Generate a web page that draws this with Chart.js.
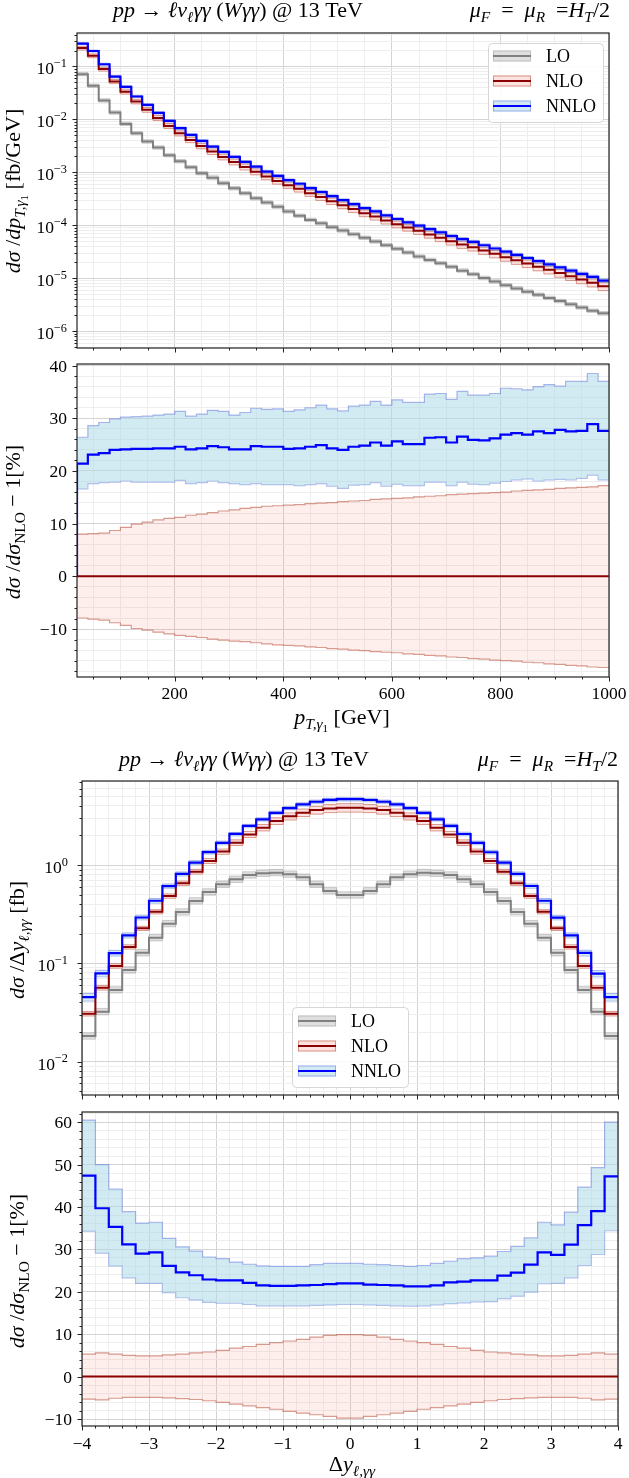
<!DOCTYPE html>
<html>
<head>
<meta charset="utf-8">
<script src="https://cdn.jsdelivr.net/npm/chart.js@4.4.1/dist/chart.umd.min.js"></script>
<style>
  body { margin: 0; background: #fff; width: 629px; height: 1478px; position: relative; overflow: hidden; }
  canvas { position: absolute; left: 0; }
</style>
</head>
<body>
<canvas id="c1" width="629" height="356" style="top:0px"></canvas>
<canvas id="c2" width="629" height="380" style="top:356px"></canvas>
<canvas id="c3" width="629" height="364" style="top:736px"></canvas>
<canvas id="c4" width="629" height="378" style="top:1100px"></canvas>
<script>
const FONT = '"Liberation Serif", "DejaVu Serif", serif';
const MAJOR_GRID = '#d4d4d4';
const MINOR_GRID = '#eeeeee';

const legendLabels = ['LO', 'NLO', 'NNLO'];

// --- leading photon pT, 20 GeV bins (bin edges) ---
const ptEdges = [20, 40, 60, 80, 100, 120, 140, 160, 180, 200, 220, 240, 260, 280, 300, 320, 340, 360, 380, 400,
  420, 440, 460, 480, 500, 520, 540, 560, 580, 600, 620, 640, 660, 680, 700, 720, 740, 760, 780, 800,
  820, 840, 860, 880, 900, 920, 940, 960, 980, 1000];
// fb/GeV
const ptLO = [0.0716, 0.0432, 0.0228, 0.0135, 0.00824, 0.00549, 0.00382, 0.00294, 0.00211, 0.00162,
  0.00125, 9.63e-4, 7.97e-4, 6.23e-4, 5.01e-4, 4.03e-4, 3.24e-4, 2.69e-4, 2.26e-4, 1.83e-4,
  1.52e-4, 1.27e-4, 1.10e-4, 9.27e-5, 8.01e-5, 6.83e-5, 5.82e-5, 4.96e-5, 4.23e-5, 3.61e-5,
  3.07e-5, 2.58e-5, 2.23e-5, 1.93e-5, 1.65e-5, 1.40e-5, 1.20e-5, 1.02e-5, 8.69e-6, 7.41e-6,
  6.46e-6, 5.62e-6, 4.90e-6, 4.27e-6, 3.72e-6, 3.24e-6, 2.82e-6, 2.45e-6, 2.19e-6];
const ptNLO = [0.222, 0.159, 0.0891, 0.0520, 0.0332, 0.0218, 0.0152, 0.0107, 0.00755, 0.00549,
  0.00411, 0.00316, 0.00247, 0.00196, 0.00158, 0.00127, 0.00103, 8.33e-4, 6.90e-4, 5.75e-4,
  4.91e-4, 4.06e-4, 3.42e-4, 2.87e-4, 2.41e-4, 2.03e-4, 1.70e-4, 1.47e-4, 1.24e-4, 1.05e-4,
  9.12e-5, 7.89e-5, 6.73e-5, 5.82e-5, 5.03e-5, 4.35e-5, 3.88e-5, 3.35e-5, 2.90e-5, 2.51e-5,
  2.19e-5, 1.91e-5, 1.66e-5, 1.45e-5, 1.26e-5, 1.10e-5, 9.55e-6, 8.30e-6, 7.10e-6];
// percent w.r.t. NLO central
const ptNLOup = [8.0, 8.1, 8.2, 8.7, 9.3, 9.9, 10.3, 10.7, 11.0, 11.2,
  11.6, 11.8, 12.1, 12.4, 12.6, 12.9, 13.1, 13.3, 13.4, 13.5,
  13.6, 13.8, 13.9, 14.0, 14.2, 14.3, 14.4, 14.6, 14.7, 14.8,
  14.9, 15.1, 15.2, 15.3, 15.5, 15.6, 15.7, 15.8, 15.9, 16.0,
  16.2, 16.3, 16.4, 16.5, 16.7, 16.8, 16.9, 17.0, 17.2];
const ptNLOdn = [-7.9, -8.1, -8.3, -8.8, -9.3, -9.9, -10.2, -10.6, -10.9, -11.2,
  -11.4, -11.6, -11.9, -12.1, -12.3, -12.4, -12.6, -12.8, -13.0, -13.1,
  -13.2, -13.4, -13.5, -13.7, -13.8, -14.0, -14.1, -14.3, -14.4, -14.5,
  -14.7, -14.8, -15.0, -15.1, -15.3, -15.4, -15.6, -15.7, -15.9, -16.0,
  -16.1, -16.3, -16.4, -16.6, -16.7, -16.9, -17.0, -17.2, -17.3];
const ptNNLO = [21.4, 23.1, 23.4, 24.0, 24.1, 24.2, 24.2, 24.3, 24.3, 24.6,
  24.1, 24.3, 24.7, 24.5, 24.1, 24.1, 24.7, 24.6, 24.6, 24.2,
  24.3, 24.6, 24.9, 24.3, 24.0, 24.6, 24.8, 25.4, 24.8, 25.6,
  25.1, 25.1, 26.3, 26.4, 25.4, 26.5, 25.9, 25.8, 26.2, 26.9,
  27.2, 26.9, 27.5, 27.2, 27.8, 27.5, 27.6, 28.9, 27.6];
const ptNNLOup = [26.4, 28.6, 29.2, 29.9, 30.2, 30.3, 30.4, 30.6, 30.8, 31.3,
  30.4, 30.8, 31.5, 31.3, 30.6, 31.1, 31.9, 31.7, 31.8, 31.3,
  31.6, 32.0, 32.5, 31.8, 31.4, 32.3, 32.5, 33.2, 32.5, 33.5,
  33.0, 33.0, 34.6, 34.7, 33.6, 35.1, 34.4, 34.4, 34.7, 35.7,
  35.6, 35.4, 36.0, 36.4, 36.1, 37.0, 37.0, 38.5, 37.0];
const ptNNLOdn = [16.6, 17.6, 17.8, 17.9, 18.1, 17.9, 17.9, 17.9, 17.9, 18.2,
  17.6, 17.8, 18.1, 17.8, 17.6, 17.4, 17.6, 17.4, 17.4, 17.4,
  17.2, 17.4, 17.6, 17.1, 16.7, 17.3, 17.4, 17.8, 17.1, 17.5,
  17.2, 17.2, 17.9, 17.9, 17.2, 17.9, 17.5, 17.4, 17.7, 18.0,
  18.3, 18.5, 18.1, 18.3, 18.4, 18.3, 18.6, 19.2, 18.3];

// --- rapidity difference, 0.2 bins ---
const dyEdges = [-4.0, -3.8, -3.6, -3.4, -3.2, -3.0, -2.8, -2.6, -2.4, -2.2, -2.0, -1.8, -1.6, -1.4, -1.2, -1.0,
  -0.8, -0.6, -0.4, -0.2, 0.0, 0.2, 0.4, 0.6, 0.8, 1.0, 1.2, 1.4, 1.6, 1.8, 2.0, 2.2, 2.4, 2.6, 2.8, 3.0,
  3.2, 3.4, 3.6, 3.8, 4.0];
// fb
const dyLO = [0.0182, 0.0322, 0.0536, 0.0855, 0.128, 0.182, 0.253, 0.333, 0.431, 0.531,
  0.636, 0.715, 0.791, 0.823, 0.836, 0.806, 0.752, 0.636, 0.546, 0.495,
  0.495, 0.546, 0.636, 0.752, 0.806, 0.836, 0.823, 0.791, 0.715, 0.636,
  0.531, 0.431, 0.333, 0.253, 0.182, 0.128, 0.0855, 0.0536, 0.0322, 0.0182];
const dyNLO = [0.0308, 0.0566, 0.0940, 0.147, 0.227, 0.335, 0.484, 0.652, 0.855, 1.10,
  1.37, 1.69, 2.05, 2.40, 2.80, 3.13, 3.41, 3.62, 3.77, 3.83,
  3.83, 3.77, 3.62, 3.41, 3.13, 2.80, 2.40, 2.05, 1.69, 1.37,
  1.10, 0.855, 0.652, 0.484, 0.335, 0.227, 0.147, 0.0940, 0.0566, 0.0308];
const dyNLOup = [5.3, 5.6, 5.3, 5.0, 4.9, 4.9, 5.1, 5.3, 5.6, 5.8,
  6.2, 6.7, 7.1, 7.6, 8.0, 8.4, 8.8, 9.3, 9.7, 9.9,
  9.9, 9.7, 9.3, 8.8, 8.4, 8.0, 7.6, 7.1, 6.7, 6.2,
  5.8, 5.6, 5.3, 5.1, 4.9, 4.9, 5.0, 5.3, 5.6, 5.3];
const dyNLOdn = [-5.3, -5.5, -5.1, -4.9, -4.9, -4.9, -5.0, -5.2, -5.4, -5.7,
  -6.1, -6.5, -6.9, -7.3, -7.7, -8.2, -8.6, -9.0, -9.4, -9.8,
  -9.8, -9.4, -9.0, -8.6, -8.2, -7.7, -7.3, -6.9, -6.5, -6.1,
  -5.7, -5.4, -5.2, -5.0, -4.9, -4.9, -4.9, -5.1, -5.5, -5.3];
const dyNNLO = [47.4, 39.7, 35.3, 31.2, 29.0, 29.3, 26.1, 24.6, 23.9, 22.9,
  22.7, 22.7, 22.1, 21.5, 21.4, 21.4, 21.5, 21.6, 21.8, 22.0,
  22.0, 21.7, 21.6, 21.5, 21.3, 21.3, 21.5, 22.2, 22.4, 22.7,
  22.7, 23.8, 24.5, 26.4, 29.3, 28.7, 31.1, 35.7, 39.0, 47.2];
const dyNNLOup = [60.5, 50.0, 44.2, 38.9, 36.2, 36.4, 32.6, 30.6, 29.6, 28.2,
  27.8, 27.0, 26.5, 26.1, 26.0, 26.0, 26.0, 26.4, 26.7, 26.7,
  26.7, 26.5, 26.4, 26.2, 26.0, 26.2, 26.7, 27.2, 27.8, 28.0,
  28.4, 29.5, 30.7, 32.7, 36.4, 35.8, 38.8, 44.7, 49.3, 60.0];
const dyNNLOdn = [34.3, 29.1, 26.1, 23.3, 22.0, 22.0, 19.8, 18.6, 18.1, 17.5,
  17.3, 17.3, 17.0, 16.7, 16.7, 16.7, 16.7, 16.8, 16.9, 17.0,
  17.0, 16.9, 16.8, 16.7, 16.6, 16.7, 16.9, 17.2, 17.4, 17.6,
  17.7, 18.4, 19.0, 19.9, 21.9, 22.0, 23.3, 26.2, 28.8, 34.4];

// LO scale band, rough estimate in percent
const loBandUp = 8;
const loBandDn = -7;

// colours
const C_LO = '#808080', C_NLO = '#8b0000', C_NNLO = '#0000ff';
const LO_FILL = 'rgba(128,128,128,0.25)', LO_EDGE = 'rgba(128,128,128,0.35)';
const NLO_FILL = 'rgba(250,128,114,0.22)', NLO_EDGE = 'rgba(190,90,70,0.6)';
const NLO_FILL_R = 'rgba(250,128,114,0.13)';
const NNLO_FILL = 'rgba(173,216,230,0.55)', NNLO_EDGE = 'rgba(80,100,220,0.45)';

// ---------- helpers ----------
function steps(edges, vals, base) {
  const pts = vals.map((v, i) => ({ x: edges[i], y: v }));
  pts.push({ x: edges[edges.length - 1], y: vals[vals.length - 1] });
  if (base !== undefined) pts.unshift({ x: edges[0], y: base });
  return pts;
}
const scaled = (base, pct) => base.map((v, i) => v * (1 + (Array.isArray(pct) ? pct[i] : pct) / 100));

function hist(data, color, width, order, fill, bg) {
  return { data, borderColor: color, borderWidth: width, backgroundColor: bg || 'transparent',
    fill: fill || false, stepped: 'before', pointRadius: 0, order };
}

function linTicks(from, to, step) {
  const out = [];
  for (let v = from; v <= to + 1e-9; v += step) out.push(Math.round(v * 1000) / 1000);
  return out;
}
function logTicks(min, max) {
  const out = [];
  for (let k = Math.floor(Math.log10(min)); k <= Math.ceil(Math.log10(max)); k++)
    for (let n = 1; n <= 9; n++) {
      const v = n * Math.pow(10, k);
      if (v >= min && v <= max) out.push(v);
    }
  return out;
}
const fmt = v => (v < 0 ? '\u2212' + Math.abs(v) : String(v));

function drawRich(ctx, parts, x, y, size, align, rotate) {
  const segs = parts.map(([t, st = '']) => {
    const sc = st.includes('z') ? 0.5 : (st.includes('s') || st.includes('S')) ? 0.7 : 1;
    const dy = st.includes('z') ? 0.36 : st.includes('s') ? 0.22 : st.includes('S') ? -0.42 : 0;
    const font = (st.includes('i') ? 'italic ' : '') + (size * sc).toFixed(1) + 'px ' + FONT;
    ctx.font = font;
    return { t, font, dy: dy * size, w: ctx.measureText(t).width };
  });
  const total = segs.reduce((s, g) => s + g.w, 0);
  ctx.save();
  ctx.translate(x, y);
  if (rotate) ctx.rotate(-Math.PI / 2);
  let cx = align === 'center' ? -total / 2 : align === 'right' ? -total : 0;
  ctx.textAlign = 'left';
  ctx.textBaseline = 'alphabetic';
  ctx.fillStyle = '#000';
  segs.forEach(g => { ctx.font = g.font; ctx.fillText(g.t, cx, g.dy); cx += g.w; });
  ctx.restore();
}

function drawLegend(ctx, lg) {
  ctx.save();
  ctx.beginPath();
  ctx.roundRect(lg.x + 0.5, lg.y + 0.5, lg.w, lg.h, 4);
  ctx.fillStyle = 'rgba(255,255,255,0.85)';
  ctx.fill();
  ctx.strokeStyle = '#d6d6d6';
  ctx.lineWidth = 1;
  ctx.stroke();
  const styles = [[C_LO, LO_FILL, LO_EDGE], [C_NLO, NLO_FILL, NLO_EDGE], [C_NNLO, NNLO_FILL, NNLO_EDGE]];
  legendLabels.forEach((label, i) => {
    const y = lg.rows[i];
    const [line, fill, edge] = styles[i];
    ctx.fillStyle = fill;
    ctx.fillRect(lg.hx, y - 5.5, 38, 11);
    ctx.strokeStyle = edge;
    ctx.lineWidth = 1;
    ctx.strokeRect(lg.hx + 0.5, y - 5, 37, 10);
    ctx.strokeStyle = line;
    ctx.lineWidth = 2;
    ctx.beginPath();
    ctx.moveTo(lg.hx, y);
    ctx.lineTo(lg.hx + 38, y);
    ctx.stroke();
    drawRich(ctx, [[label]], lg.tx, y + 6, 18, 'left');
  });
  ctx.restore();
}

function deco(cfg, majorX, majorY) {
  return {
    id: 'deco',
    afterDraw(chart) {
      const ctx = chart.ctx, a = chart.chartArea, xs = chart.scales.x, ys = chart.scales.y;
      ctx.save();
      ctx.strokeStyle = '#222';
      ctx.lineWidth = 1;
      ctx.beginPath();
      ys.ticks.forEach(t => {
        const p = Math.round(ys.getPixelForValue(t.value)) + 0.5;
        const L = majorY(t.value) ? 4.5 : 2.5;
        ctx.moveTo(a.left - L, p); ctx.lineTo(a.left, p);
      });
      xs.ticks.forEach(t => {
        const p = Math.round(xs.getPixelForValue(t.value)) + 0.5;
        const L = majorX(t.value) ? 4.5 : 2.5;
        ctx.moveTo(p, a.bottom); ctx.lineTo(p, a.bottom + L);
      });
      ctx.stroke();
      ctx.lineWidth = 1.2;
      ctx.strokeRect(a.left, a.top, a.right - a.left, a.bottom - a.top);

      ys.ticks.filter(t => majorY(t.value)).forEach(t => {
        const p = ys.getPixelForValue(t.value);
        if (cfg.yType === 'logarithmic') {
          drawRich(ctx, [['10'], [fmt(Math.round(Math.log10(t.value))), 'S']], cfg.yLabelX, p + 8, 17.5, 'right');
        } else {
          drawRich(ctx, [[fmt(t.value)]], cfg.yLabelX, p + 6, 17.5, 'right');
        }
      });
      if (cfg.xLabelY) {
        xs.ticks.filter(t => majorX(t.value)).forEach(t => {
          drawRich(ctx, [[fmt(t.value)]], xs.getPixelForValue(t.value), cfg.xLabelY, 17.5, 'center');
        });
      }
      cfg.texts.forEach(tx => drawRich(ctx, tx.parts, tx.x, tx.y, tx.size, tx.align, tx.rotate));
      if (cfg.legend) drawLegend(ctx, cfg.legend);
      ctx.restore();
    }
  };
}

function buildChart(id, cfg) {
  const isLog = cfg.yType === 'logarithmic';
  const near = (v, m) => Math.abs(v / m - Math.round(v / m)) < 1e-6;
  const majorY = isLog ? v => Math.abs(Math.log10(v) - Math.round(Math.log10(v))) < 1e-6 : v => near(v, cfg.yMajor);
  const majorX = v => near(v, cfg.xMajor);
  const yTicks = isLog ? logTicks(cfg.yMin, cfg.yMax) : cfg.yTicks;
  return new Chart(document.getElementById(id), {
    type: 'line',
    data: { datasets: cfg.datasets },
    options: {
      responsive: false,
      animation: false,
      devicePixelRatio: 1,
      events: [],
      layout: { padding: cfg.padding },
      plugins: { legend: { display: false }, tooltip: { enabled: false } },
      scales: {
        x: {
          type: 'linear', min: cfg.xMin, max: cfg.xMax,
          ticks: { display: false },
          border: { display: false },
          grid: { drawTicks: false, lineWidth: 1, color: c => (c.tick && majorX(c.tick.value)) ? MAJOR_GRID : MINOR_GRID },
          afterBuildTicks: s => { s.ticks = cfg.xTicks.map(v => ({ value: v })); },
          afterFit: s => { s.height = cfg.xAxisH; }
        },
        y: {
          type: cfg.yType, min: cfg.yMin, max: cfg.yMax,
          ticks: { display: false },
          border: { display: false },
          grid: { drawTicks: false, lineWidth: 1, color: c => (c.tick && majorY(c.tick.value)) ? MAJOR_GRID : MINOR_GRID },
          afterBuildTicks: s => { s.ticks = yTicks.map(v => ({ value: v })); },
          afterFit: s => { s.width = cfg.yAxisW; }
        }
      }
    },
    plugins: [deco(cfg, majorX, majorY)]
  });
}

// ---------- text ----------
const titleLeft = [['pp', 'i'], [' \u2192 '], ['\u2113\u03BD', 'i'], ['\u2113', 'is'], ['\u03B3\u03B3', 'i'], [' ('], ['W\u03B3\u03B3', 'i'], [') @ 13 TeV']];
const titleRight = [['\u03BC', 'i'], ['F', 'is'], ['\u2002=\u2002'], ['\u03BC', 'i'], ['R', 'is'], ['\u2002='], ['H', 'i'], ['T', 'is'], ['/2']];
const ratioTitle = [['d\u03C3', 'i'], [' /'], ['d\u03C3', 'i'], ['NLO', 's'], [' \u2212 1[%]']];
const T_SIZE = 22, A_SIZE = 22;

const ptXTicks = linTicks(50, 1000, 50);
const dyXTicks = linTicks(-4, 4, 0.2);

// ---------- top: pT distribution ----------
buildChart('c1', {
  yType: 'logarithmic', yMin: 4.85e-7, yMax: 0.428,
  xMin: 20, xMax: 1000, xMajor: 200, xTicks: ptXTicks,
  padding: { top: 33, right: 20, left: 0, bottom: 0 },
  yAxisW: 77, xAxisH: 8, yLabelX: 67,
  datasets: [
    hist(steps(ptEdges, scaled(ptNLO, ptNNLO)), C_NNLO, 2.2, 0),
    hist(steps(ptEdges, ptNLO), C_NLO, 2, 1),
    hist(steps(ptEdges, ptLO), C_LO, 2, 2),
    hist(steps(ptEdges, scaled(ptNLO, ptNNLOup)), NNLO_EDGE, 1, 3, '+1', NNLO_FILL),
    hist(steps(ptEdges, scaled(ptNLO, ptNNLOdn)), NNLO_EDGE, 1, 3),
    hist(steps(ptEdges, scaled(ptNLO, ptNLOup)), NLO_EDGE, 1, 4, '+1', NLO_FILL),
    hist(steps(ptEdges, scaled(ptNLO, ptNLOdn)), NLO_EDGE, 1, 4),
    hist(steps(ptEdges, scaled(ptLO, loBandUp)), LO_EDGE, 1, 5, '+1', LO_FILL),
    hist(steps(ptEdges, scaled(ptLO, loBandDn)), LO_EDGE, 1, 5)
  ],
  texts: [
    { parts: titleLeft, x: 238, y: 17, size: T_SIZE, align: 'center' },
    { parts: titleRight, x: 610, y: 17, size: T_SIZE, align: 'right' },
    { parts: [['d\u03C3', 'i'], [' /'], ['dp', 'i'], ['T,\u03B3', 'is'], ['1', 'z'], [' [fb/GeV]']], x: 20, y: 191, size: A_SIZE, align: 'center', rotate: true }
  ],
  legend: { x: 488, y: 43, w: 115, h: 79, hx: 493, tx: 546, rows: [56, 81, 106] }
});

// ---------- pT ratio ----------
buildChart('c2', {
  yType: 'linear', yMin: -19.1, yMax: 40.3, yMajor: 10, yTicks: linTicks(-18, 40, 2),
  xMin: 20, xMax: 1000, xMajor: 200, xTicks: ptXTicks,
  padding: { top: 8, right: 20, left: 0, bottom: 0 },
  yAxisW: 77, xAxisH: 59, yLabelX: 67, xLabelY: 343,
  datasets: [
    hist(steps(ptEdges, ptNLO.map(v => (v / v - 1) * 100)), C_NLO, 2, 0),
    hist(steps(ptEdges, ptNNLO, 0), C_NNLO, 2.2, 1),
    hist(steps(ptEdges, ptNNLOup), NNLO_EDGE, 1.2, 2, '+1', NNLO_FILL),
    hist(steps(ptEdges, ptNNLOdn), NNLO_EDGE, 1.2, 2),
    hist(steps(ptEdges, ptNLOup), NLO_EDGE, 1.2, 3, '+1', NLO_FILL_R),
    hist(steps(ptEdges, ptNLOdn), NLO_EDGE, 1.2, 3)
  ],
  texts: [
    { parts: ratioTitle, x: 20, y: 166, size: A_SIZE, align: 'center', rotate: true },
    { parts: [['p', 'i'], ['T,\u03B3', 'is'], ['1', 'z'], [' [GeV]']], x: 342, y: 368, size: A_SIZE, align: 'center' }
  ]
});

// ---------- rapidity distribution ----------
buildChart('c3', {
  yType: 'logarithmic', yMin: 4.58e-3, yMax: 7.16,
  xMin: -4, xMax: 4, xMajor: 1, xTicks: dyXTicks,
  padding: { top: 45, right: 11, left: 0, bottom: 0 },
  yAxisW: 82, xAxisH: 5, yLabelX: 68,
  datasets: [
    hist(steps(dyEdges, scaled(dyNLO, dyNNLO)), C_NNLO, 2.2, 0),
    hist(steps(dyEdges, dyNLO), C_NLO, 2, 1),
    hist(steps(dyEdges, dyLO), C_LO, 2, 2),
    hist(steps(dyEdges, scaled(dyNLO, dyNNLOup)), NNLO_EDGE, 1, 3, '+1', NNLO_FILL),
    hist(steps(dyEdges, scaled(dyNLO, dyNNLOdn)), NNLO_EDGE, 1, 3),
    hist(steps(dyEdges, scaled(dyNLO, dyNLOup)), NLO_EDGE, 1, 4, '+1', NLO_FILL),
    hist(steps(dyEdges, scaled(dyNLO, dyNLOdn)), NLO_EDGE, 1, 4),
    hist(steps(dyEdges, scaled(dyLO, loBandUp)), LO_EDGE, 1, 5, '+1', LO_FILL),
    hist(steps(dyEdges, scaled(dyLO, loBandDn)), LO_EDGE, 1, 5)
  ],
  texts: [
    { parts: titleLeft, x: 244, y: 30, size: T_SIZE, align: 'center' },
    { parts: titleRight, x: 618, y: 30, size: T_SIZE, align: 'right' },
    { parts: [['d\u03C3', 'i'], [' /'], ['\u0394'], ['y', 'i'], ['\u2113,\u03B3\u03B3', 'is'], [' [fb]']], x: 24, y: 204, size: A_SIZE, align: 'center', rotate: true }
  ],
  legend: { x: 292, y: 271, w: 116, h: 80, hx: 298, tx: 351, rows: [285, 310, 335] }
});

// ---------- rapidity ratio ----------
buildChart('c4', {
  yType: 'linear', yMin: -11.65, yMax: 62.4, yMajor: 10, yTicks: linTicks(-10, 62, 2),
  xMin: -4, xMax: 4, xMajor: 1, xTicks: dyXTicks,
  padding: { top: 12, right: 11, left: 0, bottom: 0 },
  yAxisW: 82, xAxisH: 52, yLabelX: 72, xLabelY: 349,
  datasets: [
    hist(steps(dyEdges, dyNLO.map(v => (v / v - 1) * 100)), C_NLO, 2, 0),
    hist(steps(dyEdges, dyNNLO), C_NNLO, 2.2, 1),
    hist(steps(dyEdges, dyNNLOup), NNLO_EDGE, 1.2, 2, '+1', NNLO_FILL),
    hist(steps(dyEdges, dyNNLOdn), NNLO_EDGE, 1.2, 2),
    hist(steps(dyEdges, dyNLOup), NLO_EDGE, 1.2, 3, '+1', NLO_FILL_R),
    hist(steps(dyEdges, dyNLOdn), NLO_EDGE, 1.2, 3)
  ],
  texts: [
    { parts: ratioTitle, x: 24, y: 171, size: A_SIZE, align: 'center', rotate: true },
    { parts: [['\u0394'], ['y', 'i'], ['\u2113,\u03B3\u03B3', 'is']], x: 352, y: 371, size: A_SIZE, align: 'center' }
  ]
});
</script>
</body>
</html>
